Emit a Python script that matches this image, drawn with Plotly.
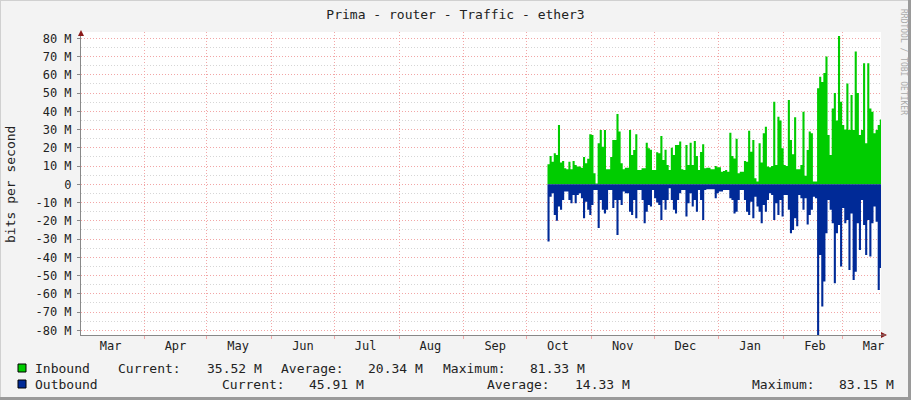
import pandas as pd
import plotly.graph_objects as go

# daily traffic, Mbit/s, starting 2014-10-11
start_day = "2014-10-11"
inbound = [
    11, 15.5, 12.4, 17, 16, 32.5, 12, 12.8, 8.8, 8.2,
    12.4, 8.2, 12.8, 10.6, 9.7, 9.7, 9.1, 15, 11.5, 14,
    27.4, 27, 6, 0.5, 22.5, 29.8, 20.6, 29.8, 8.2, 8.2,
    15, 24.3, 24.3, 38.5, 28.9, 11.5, 8.2, 9.1, 9.1, 29.8,
    16, 18.8, 27.4, 7.9, 7.9, 8.8, 8.8, 22.8, 19.7, 19,
    7.9, 7.9, 17.5, 17, 26.5, 13.3, 19, 10.6, 7.9, 20,
    16, 21.5, 21.5, 23.4, 8.2, 7.9, 21.5, 10.6, 22.8, 10.6,
    23.7, 15.5, 7.9, 17.7, 21.9, 8.8, 9.1, 9.1, 8.2, 8.2,
    10, 9.3, 9.3, 6.9, 7.3, 7.9, 6.9, 28.3, 15.5, 14.2,
    25, 6, 6.9, 6.9, 12.8, 12.4, 29.4, 17.9, 24.3, 3.3,
    1.5, 22.5, 11.9, 28, 31.6, 9.7, 9.3, 10, 45.3, 10.6,
    37, 35, 19.7, 10.6, 10, 46.2, 24.3, 16.4, 36.7, 8.2,
    8.2, 10.6, 39.8, 4.7, 18.8, 28.9, 28, 1.5, 1.5, 52.6,
    59, 56, 61, 70, 27, 16, 41.6, 50, 35, 81.3,
    45.3, 32.5, 30, 55.3, 29.8, 49, 29.8, 72.7, 50, 27,
    29.8, 66.3, 22.5, 66.3, 41.6, 39.8, 28, 29.8, 32.5, 35.5,
]
outbound = [
    31.4, 6.8, 4.9, 16.8, 20, 12.2, 14, 8.6, 4, 4,
    8.6, 10.4, 5.8, 10.4, 5.8, 4.9, 7.7, 18.6, 9.5, 14,
    16.8, 11.3, 3.1, 3.1, 24, 8.6, 14, 16, 14, 3.1,
    3.1, 13, 8.6, 27.8, 8.6, 11.3, 4, 4.9, 4.9, 15,
    16.8, 8.6, 18.6, 3.1, 3.1, 8.6, 21.4, 15, 11.3, 12.2,
    3.1, 7.7, 10, 11.3, 19.5, 8.6, 14, 8.6, 2.2, 8.6,
    14, 16, 8.6, 4.9, 3.1, 3.1, 17.7, 10.4, 4.9, 12.2,
    8.6, 15, 3.1, 8.6, 19.5, 3.1, 2.7, 2.7, 2.7, 2.7,
    7.7, 4.9, 4, 4, 3.1, 3.1, 3.1, 7.7, 8.6, 16,
    15, 8.6, 3.1, 3.1, 8.6, 15, 16.8, 9.5, 18.6, 6.8,
    12.2, 15, 21.4, 11.3, 15, 8.6, 4.9, 5.8, 19.5, 10.4,
    16.8, 8.6, 17.7, 5.8, 5.8, 14, 26.8, 25, 18.6, 23,
    5.8, 7.7, 14, 7.7, 22, 16.8, 14, 6.8, 7.7, 83.2,
    38.7, 67, 53.3, 26.8, 8.6, 14, 21.4, 54.2, 26.8, 22.3,
    45, 13, 21.4, 19.5, 47, 16, 52.4, 47.9, 21.4, 36,
    8.6, 22.3, 38.7, 19.5, 39.6, 21.4, 12.2, 20.5, 57.9, 45.9,
]

x_start, x_end = "2014-03-01 19:00", "2015-03-19 14:00"
y_ticks = list(range(-80, 81, 10))
y_labels = [f"{v} M" if v else "0" for v in y_ticks]

legend_rows = [
    ("Inbound", "#00cc00", [("Current:", 116), ("35.52 M", 205), ("Average:", 279),
                            ("20.34 M", 366), ("Maximum:", 441), ("81.33 M", 528)]),
    ("Outbound", "#002a97", [("Current:", 220), ("45.91 M", 307), ("Average:", 485),
                             ("14.33 M", 573), ("Maximum:", 750), ("83.15 M", 837)]),
]

# plot area in pixels
L, R, T, B = 81, 881, 32, 335
W, H = R - L, B - T


def px(x):
    return (x - L) / W


def py(y):
    return (B - y) / H


days = pd.date_range(start_day, periods=len(inbound) + 1, freq="D")
inb = inbound + inbound[-1:]
outb = [-v for v in outbound + outbound[-1:]]

month_starts = pd.date_range("2014-03-01", "2015-03-01", freq="MS")
month_mids = month_starts + pd.Timedelta(days=15)

mono = "DejaVu Sans Mono"
grid_red = "#f2a6a6"
grid_grey = "#d6d6d6"
dots = "1px,2px"

fig = go.Figure()
fig.add_trace(go.Scatter(x=days, y=inb, mode="lines", line=dict(width=0, shape="hv"),
                         fill="tozeroy", fillcolor="#00cc00", name="Inbound"))
fig.add_trace(go.Scatter(x=days, y=outb, mode="lines", line=dict(width=0, shape="hv"),
                         fill="tozeroy", fillcolor="#002a97", name="Outbound"))

fig.update_layout(
    width=911, height=400,
    margin=dict(l=L, r=911 - R, t=T, b=400 - B, autoexpand=False),
    paper_bgcolor="#f3f3f3", plot_bgcolor="white",
    showlegend=False,
    title=dict(text="Prima - router - Traffic - ether3", x=0.5, xanchor="center",
               y=1 - 14 / 400, yanchor="middle", font=dict(family=mono, size=13, color="#222")),
    font=dict(family=mono, size=12, color="#222"),
    xaxis=dict(
        type="date", range=[x_start, x_end],
        tickvals=month_mids, ticktext=[d.strftime("%b") for d in month_mids],
        ticks="", showgrid=False,
        minor=dict(tickvals=month_starts, showgrid=True, gridcolor=grid_red, griddash=dots,
                   gridwidth=1, ticks="outside", ticklen=3, tickcolor=grid_red),
        showline=True, linecolor="#888", linewidth=1, zeroline=False,
        tickfont=dict(family=mono, size=12, color="#222"),
    ),
    yaxis=dict(
        range=[(B - 184.3) / -1.825, (184.3 - T) / 1.825],
        tickvals=y_ticks, ticktext=y_labels,
        showgrid=True, gridcolor=grid_red, griddash=dots, gridwidth=1,
        minor=dict(dtick=5, tick0=0, showgrid=True, gridcolor=grid_grey, griddash=dots, ticks=""),
        ticks="outside", ticklen=3, tickcolor="#888", ticklabelstandoff=3,
        showline=True, linecolor="#888", linewidth=1, zeroline=False,
        tickfont=dict(family=mono, size=12, color="#222"),
    ),
)

# axis arrows
fig.add_shape(type="path", xref="paper", yref="paper", line_width=0, fillcolor="#8b1a1a",
              path=f"M {px(R)},{py(B - 3)} L {px(R + 6)},{py(B)} L {px(R)},{py(B + 3)} Z")
fig.add_shape(type="path", xref="paper", yref="paper", line_width=0, fillcolor="#8b1a1a",
              path=f"M {px(L - 3)},{py(T + 4)} L {px(L)},{py(T - 2)} L {px(L + 3)},{py(T + 4)} Z")
fig.add_shape(type="line", xref="paper", yref="paper", x0=px(R), x1=px(R + 4), y0=0, y1=0,
              line=dict(color="#888", width=1))

# frame
fig.add_shape(type="line", xref="paper", yref="paper", x0=px(0), x1=px(911), y0=py(0.5), y1=py(0.5),
              line=dict(color="#d0d0d0", width=1))
fig.add_shape(type="line", xref="paper", yref="paper", x0=px(0.5), x1=px(0.5), y0=py(0), y1=py(400),
              line=dict(color="#d0d0d0", width=1))
fig.add_shape(type="line", xref="paper", yref="paper", x0=px(909.5), x1=px(909.5), y0=py(0), y1=py(400),
              line=dict(color="#9a9a9a", width=3))
fig.add_shape(type="line", xref="paper", yref="paper", x0=px(0), x1=px(911), y0=py(398.5), y1=py(398.5),
              line=dict(color="#9a9a9a", width=3))

# y axis title and watermark
fig.add_annotation(text="bits per second", xref="paper", yref="paper", x=px(10), y=py(185),
                   xanchor="center", yanchor="middle", textangle=-90, showarrow=False,
                   font=dict(family=mono, size=13, color="#222"))
fig.add_annotation(text="RRDTOOL / TOBI OETIKER", xref="paper", yref="paper", x=px(903), y=py(62),
                   xanchor="center", yanchor="middle", textangle=90, showarrow=False,
                   font=dict(family=mono, size=8, color="#aaa"))

# legend
for i, (name, color, items) in enumerate(legend_rows):
    yc = 368 + 16 * i
    fig.add_shape(type="rect", xref="paper", yref="paper", x0=px(18), x1=px(26),
                  y0=py(yc - 4), y1=py(yc + 4), fillcolor=color, line=dict(color="#000", width=1))
    fig.add_annotation(text=name, xref="paper", yref="paper", x=px(33), y=py(yc),
                       xanchor="left", yanchor="middle", showarrow=False,
                       font=dict(family=mono, size=13, color="#222"))
    for text, xl in items:
        fig.add_annotation(text=text, xref="paper", yref="paper", x=px(xl), y=py(yc),
                           xanchor="left", yanchor="middle", showarrow=False,
                           font=dict(family=mono, size=13, color="#222"))

fig.write_html("out.html", config={"displayModeBar": False},
               post_script="document.body.style.margin='0';")
